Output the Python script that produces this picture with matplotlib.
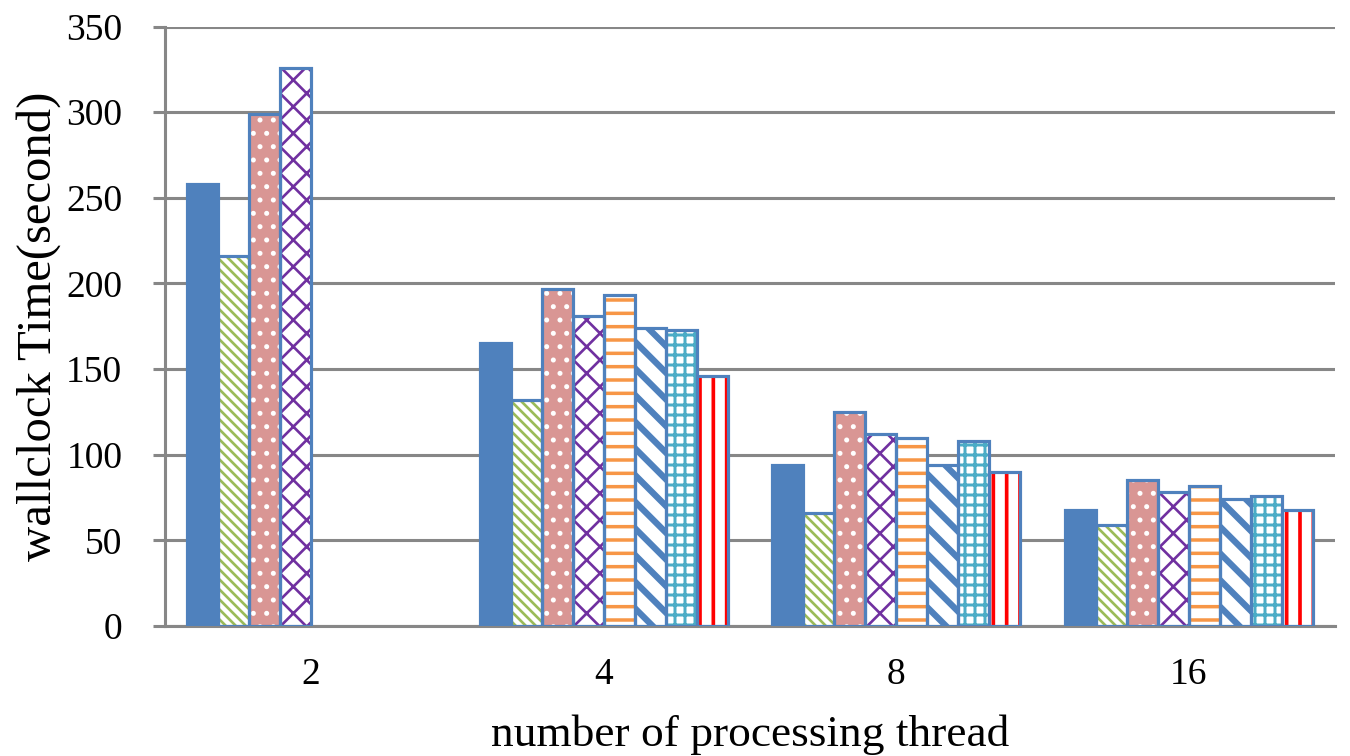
import numpy as np
import matplotlib
matplotlib.use("Agg")
import matplotlib.pyplot as plt

plt.rcParams["font.family"] = ["Liberation Serif", "DejaVu Serif"]

# 各线程数下 8 组配置的耗时 (秒); 2 线程只测了前 4 组
threads = ["2", "4", "8", "16"]
s1 = [258, 165, 94, 68]
s2 = [216, 132, 66, 59]
s3 = [299, 197, 125, 85]
s4 = [326, 181, 112, 78]
s5 = [None, 193, 110, 82]
s6 = [None, 174, 94, 74]
s7 = [None, 173, 108, 76]
s8 = [None, 146, 90, 68]
all_series = [s1, s2, s3, s4, s5, s6, s7, s8]

# 填充样式: (底色, 花纹, 花纹颜色, 花纹线宽)
# 花纹疏密跟 dpi 走, 这里按 240 dpi 选的重复次数
styles = [
    ("#4F81BD", None, "#4F81BD", 0.0),
    ("white", "\\" * 8, "#9BBB59", 0.8),
    ("#D99694", "...", "white", 0.7),
    ("white", "xxx", "#7030A0", 0.8),
    ("white", "---", "#F79646", 1.05),
    ("white", "\\\\\\", "#4F81BD", 1.9),
    ("white", "++++", "#4BACC6", 0.9),
    ("white", "|||", "#FF0000", 1.1),
]
border = "#4F81BD"
grid_gray = "#878787"

DPI = 240
fig = plt.figure(figsize=(1350 / DPI, 756 / DPI), dpi=DPI)
ax = fig.add_axes([0.1222, 0.172, 0.8667, 0.7929])

x = np.arange(len(threads))
width = 0.106

for i, (vals, (face, hatch, hcolor, hlw)) in enumerate(zip(all_series, styles)):
    xs = [x[j] + (i - 3.5) * width for j, v in enumerate(vals) if v is not None]
    hs = [v for v in vals if v is not None]
    with plt.rc_context({"hatch.linewidth": hlw if hlw else 1.0}):
        bars = ax.bar(xs, hs, width, color=face, edgecolor=hcolor,
                      hatch=hatch, linewidth=0, zorder=2)
    for b in bars:
        if hasattr(b, "set_hatch_linewidth") and hlw:
            b.set_hatch_linewidth(hlw)
    # 外框单独画, 颜色与花纹分开
    ax.bar(xs, hs, width, fill=False, edgecolor=border, linewidth=0.95, zorder=3)

ax.set_xlim(-0.5, 3.5)
ax.set_ylim(0, 350)
ax.set_yticks(np.arange(0, 351, 50))
ax.set_xticks(x)
ax.set_xticklabels(threads)

ax.yaxis.grid(True, color=grid_gray, linewidth=0.92)
ax.set_axisbelow(True)
for side in ("top", "right"):
    ax.spines[side].set_visible(False)
for side in ("left", "bottom"):
    ax.spines[side].set_color(grid_gray)
    ax.spines[side].set_linewidth(0.92)

ax.tick_params(axis="y", direction="out", length=3.6, width=0.92,
               color=grid_gray, pad=9.2, labelsize=11.25)
ax.tick_params(axis="x", length=0, pad=9.6, labelsize=11.25)

ax.set_xlabel("number of processing thread", fontsize=13.6, labelpad=6.7)
ax.set_ylabel("wallclock Time(second)", fontsize=14.6, labelpad=1.7)

fig.savefig("out.png", dpi=DPI)
